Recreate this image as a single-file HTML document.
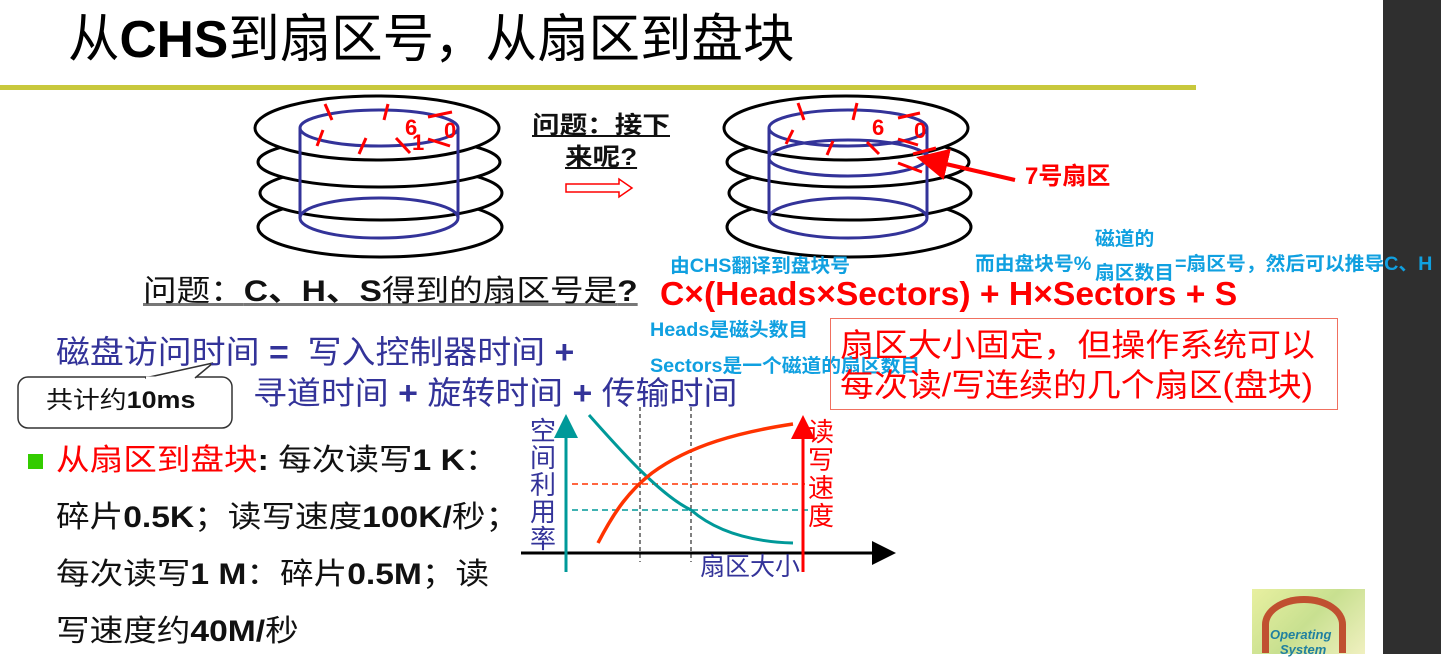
<!DOCTYPE html>
<html><head><meta charset="utf-8"><style>
body{margin:0;width:1441px;height:654px;overflow:hidden;background:#fff;position:relative;font-family:"Liberation Sans","Noto Sans CJK SC",sans-serif}
.a{position:absolute;white-space:nowrap;line-height:1;transform-origin:top left}
.b{font-weight:bold}
.cy{color:#10a0e0;font-weight:bold;font-size:19px;transform:scaleX(1.04)}
.nv{color:#333399;font-size:32px;transform:scaleX(1.06)}
.bk{font-size:30px;color:#111;transform:scaleX(1.12)}
</style></head><body>
<div class="a" style="left:1383px;top:0;width:58px;height:654px;background:#2f2f2f"></div>
<div class="a" style="left:0;top:85px;width:1196px;height:5px;background:#c8c83c"></div>
<div class="a" style="left:68px;top:14px;font-size:52px;color:#000;transform:scaleX(0.99)">从<b>CHS</b>到扇区号，从扇区到盘块</div>

<svg class="a" style="left:0;top:0" width="1441" height="654">
<defs><marker id="ak" markerWidth="8" markerHeight="8" refX="7" refY="4" orient="auto"><path d="M0,0L8,4L0,8z" fill="#000"/></marker>
<marker id="at" markerWidth="8" markerHeight="8" refX="7" refY="4" orient="auto"><path d="M0,0L8,4L0,8z" fill="#009999"/></marker>
<marker id="ar" markerWidth="8" markerHeight="8" refX="7" refY="4" orient="auto"><path d="M0,0L8,4L0,8z" fill="#f00"/></marker></defs>
<g fill="none" stroke-width="3">
<g>
<ellipse cx="380" cy="227" rx="122" ry="30" stroke="#000" fill="#fff"/>
<ellipse cx="381" cy="193" rx="121" ry="27" stroke="#000" fill="#fff"/>
<ellipse cx="379" cy="162" rx="121" ry="25" stroke="#000" fill="#fff"/>
<ellipse cx="377" cy="128" rx="122" ry="32" stroke="#000" fill="#fff"/>
<ellipse cx="379" cy="128" rx="79" ry="18" stroke="#333399"/>
<ellipse cx="379" cy="218" rx="79" ry="20" stroke="#333399"/>
<line x1="300" y1="128" x2="300" y2="218" stroke="#333399"/>
<line x1="458" y1="128" x2="458" y2="218" stroke="#333399"/>
</g>
<g transform="translate(469,0)">
<ellipse cx="380" cy="227" rx="122" ry="30" stroke="#000" fill="#fff"/>
<ellipse cx="381" cy="193" rx="121" ry="27" stroke="#000" fill="#fff"/>
<ellipse cx="379" cy="162" rx="121" ry="25" stroke="#000" fill="#fff"/>
<ellipse cx="377" cy="128" rx="122" ry="32" stroke="#000" fill="#fff"/>
<ellipse cx="379" cy="128" rx="79" ry="18" stroke="#333399"/>
<ellipse cx="379" cy="158" rx="79" ry="18" stroke="#333399"/>
<ellipse cx="379" cy="218" rx="79" ry="20" stroke="#333399"/>
<line x1="300" y1="128" x2="300" y2="218" stroke="#333399"/>
<line x1="458" y1="128" x2="458" y2="218" stroke="#333399"/>
</g>
<g stroke="#f00">
<line x1="325" y1="104" x2="332" y2="120"/><line x1="388" y1="104" x2="384" y2="120"/>
<line x1="428" y1="117" x2="452" y2="112"/><line x1="428" y1="139" x2="450" y2="146"/>
<line x1="323" y1="130" x2="317" y2="146"/><line x1="366" y1="138" x2="359" y2="154"/>
<line x1="396" y1="138" x2="410" y2="153"/>
<line x1="798" y1="103" x2="804" y2="120"/><line x1="857" y1="103" x2="853" y2="120"/>
<line x1="898" y1="118" x2="920" y2="113"/><line x1="898" y1="139" x2="918" y2="145"/>
<line x1="793" y1="130" x2="786" y2="144"/><line x1="833" y1="141" x2="827" y2="155"/>
<line x1="867" y1="142" x2="879" y2="154"/>
<line x1="913" y1="154" x2="936" y2="148"/><line x1="898" y1="163" x2="922" y2="172"/>
<line x1="1015" y1="180" x2="920" y2="158" marker-end="url(#ar)" stroke-width="4"/>
</g>
<path d="M566,184h53v-5l13,9l-13,9v-5h-53z" stroke="#f00" stroke-width="1.5" fill="#fff"/>
<rect x="18" y="377" width="214" height="51" rx="10" stroke="#333" stroke-width="1.5" fill="#fff"/>
<path d="M145,378 L213,363 L195,378" stroke="#333" stroke-width="1.5" fill="#fff"/>
<line x1="146" y1="377.5" x2="194" y2="377.5" stroke="#fff" stroke-width="2"/>
<line x1="640" y1="407" x2="640" y2="562" stroke="#000" stroke-width="1" stroke-dasharray="4,3"/>
<line x1="691" y1="407" x2="691" y2="562" stroke="#000" stroke-width="1" stroke-dasharray="4,3"/>
<line x1="572" y1="484" x2="805" y2="484" stroke="#ff3300" stroke-width="1.5" stroke-dasharray="6,4"/>
<line x1="572" y1="510" x2="810" y2="510" stroke="#009999" stroke-width="1.5" stroke-dasharray="6,4"/>
<line x1="521" y1="553" x2="893" y2="553" stroke="#000" stroke-width="3" marker-end="url(#ak)"/>
<line x1="566" y1="572" x2="566" y2="417" stroke="#009999" stroke-width="3" marker-end="url(#at)"/>
<line x1="803" y1="572" x2="803" y2="418" stroke="#f00" stroke-width="3" marker-end="url(#ar)"/>
<path d="M589,415 C620,450 660,495 691,510 C720,535 760,542 793,543" stroke="#009999"/>
<path d="M598,543 C615,510 630,490 652,473 C690,445 740,432 793,424" stroke="#ff3300" stroke-width="3.5"/>
</g>
<text x="405" y="135" font-family="Liberation Sans" font-weight="bold" font-size="22" fill="#f00">6</text>
<text x="412" y="150" font-family="Liberation Sans" font-weight="bold" font-size="22" fill="#f00">1</text>
<text x="444" y="138" font-family="Liberation Sans" font-weight="bold" font-size="22" fill="#f00">0</text>
<text x="872" y="135" font-family="Liberation Sans" font-weight="bold" font-size="22" fill="#f00">6</text>
<text x="914" y="138" font-family="Liberation Sans" font-weight="bold" font-size="22" fill="#f00">0</text>
</svg>

<div class="a b" style="left:532px;top:114px;font-size:24px;text-decoration:underline;color:#111;transform:scaleX(1.15)">问题：接下</div>
<div class="a b" style="left:565px;top:146px;font-size:24px;text-decoration:underline;color:#111;transform:scaleX(1.15)">来呢?</div>
<div class="a b" style="left:1025px;top:165px;font-size:24px;color:#f00">7号扇区</div>

<div class="a cy" style="left:670px;top:257px">由CHS翻译到盘块号</div>
<div class="a cy" style="left:975px;top:255px">而由盘块号%</div>
<div class="a cy" style="left:1095px;top:230px">磁道的</div>
<div class="a cy" style="left:1095px;top:264px">扇区数目</div>
<div class="a cy" style="left:1175px;top:255px">=扇区号，然后可以推导C、H</div>

<div class="a" style="left:143px;top:277px;font-size:30px;color:#111;text-decoration:underline;text-decoration-color:#777;transform:scaleX(1.12)">问题：<b>C、H、S</b>得到的扇区号是<b>?</b></div>
<div class="a b" style="left:660px;top:277px;font-size:33px;color:#f00;transform:scaleX(1.02)">C×(Heads×Sectors) + H×Sectors + S</div>
<div class="a cy" style="left:650px;top:321px">Heads是磁头数目</div>
<div class="a cy" style="left:650px;top:357px">Sectors是一个磁道的扇区数目</div>

<div class="a" style="left:830px;top:318px;width:506px;height:90px;border:1.5px solid #f07060"></div>
<div class="a" style="left:840px;top:329px;font-size:32px;color:#f00;transform:scaleX(1.06)">扇区大小固定，但操作系统可以</div>
<div class="a" style="left:840px;top:369px;font-size:32px;color:#f00;transform:scaleX(1.06)">每次读/写连续的几个扇区(盘块)</div>

<div class="a nv" style="left:56px;top:336px">磁盘访问时间 <b>=</b>&nbsp; 写入控制器时间 <b>+</b></div>
<div class="a nv" style="left:253px;top:377px">寻道时间 <b>+</b> 旋转时间 <b>+</b> 传输时间</div>
<div class="a" style="left:46px;top:389px;font-size:24px;color:#111;transform:scaleX(1.12)">共计约<b>10ms</b></div>

<div class="a" style="left:28px;top:454px;width:15px;height:15px;background:#33cc00"></div>
<div class="a bk" style="left:56px;top:446px"><span style="color:#f00">从扇区到盘块</span><b>:</b> 每次读写<b>1 K</b>：</div>
<div class="a bk" style="left:56px;top:503px">碎片<b>0.5K</b>；读写速度<b>100K/</b>秒；</div>
<div class="a bk" style="left:56px;top:560px">每次读写<b>1 M</b>：碎片<b>0.5M</b>；读</div>
<div class="a bk" style="left:56px;top:617px">写速度约<b>40M/</b>秒</div>

<div class="a" style="left:530px;top:418px;font-size:26px;color:#333399;line-height:27px;white-space:normal;width:28px">空间利用率</div>
<div class="a" style="left:808px;top:418px;font-size:26px;color:#f00;line-height:28px;white-space:normal;width:28px">读写速度</div>
<div class="a" style="left:700px;top:555px;font-size:25px;color:#333399">扇区大小</div>

<div class="a" style="left:1252px;top:589px;width:113px;height:65px;background:linear-gradient(135deg,#e8f0a0,#c8e090 50%,#f0f0c0)"></div>
<div class="a" style="left:1262px;top:596px;width:70px;height:50px;border:7px solid #c05030;border-radius:50% 50% 0 0;border-bottom:none"></div>
<div class="a" style="left:1270px;top:628px;font-size:13px;font-style:italic;font-weight:bold;color:#2080a0">Operating</div>
<div class="a" style="left:1280px;top:643px;font-size:13px;font-style:italic;font-weight:bold;color:#2080a0">System</div>
</body></html>
